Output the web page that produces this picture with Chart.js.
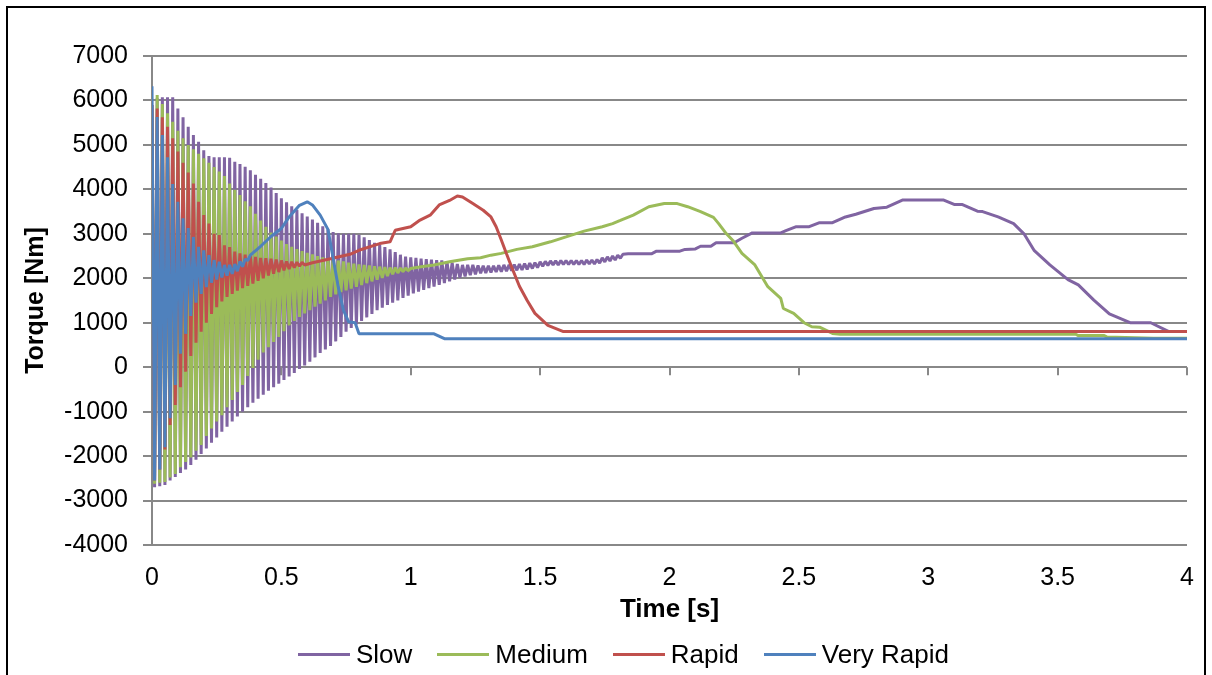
<!DOCTYPE html>
<html><head><meta charset="utf-8">
<script src="https://cdn.jsdelivr.net/npm/chart.js@4.4.1/dist/chart.umd.min.js"></script>
<style>
html,body{margin:0;padding:0;background:#fff;}
#wrap{position:relative;width:1212px;height:675px;overflow:hidden;background:#fff;}
#c{position:absolute;left:0;top:0;}
#frame{position:absolute;left:6px;top:6px;width:1200px;height:720px;border:2px solid #000;box-sizing:border-box;pointer-events:none;}
#legend{position:absolute;left:298px;top:638px;height:32px;display:flex;align-items:center;font-family:Arial,'Liberation Sans',sans-serif;font-size:26px;color:#000;white-space:nowrap;}
.item{display:flex;align-items:center;margin-right:25px;}
.swatch{width:52px;height:3px;margin-right:6px;}
</style></head>
<body><div id="wrap"><canvas id="c" width="1212" height="675"></canvas><div id="legend"></div><div id="frame"></div></div>
<script>
// ---- data ----
const seriesNames = ['Slow', 'Medium', 'Rapid', 'Very Rapid'];
const xTicks = [0, 0.5, 1, 1.5, 2, 2.5, 3, 3.5, 4];
const yTicks = [-4000, -3000, -2000, -1000, 0, 1000, 2000, 3000, 4000, 5000, 6000, 7000];

// time base of the oscillating start-up phase [s]
const tOsc = [
0,0.01,0.02,0.03,0.04,0.05,0.06,0.07,0.08,0.09,
0.1,0.11,0.12,0.13,0.14,0.15,0.16,0.17,0.18,0.19,
0.2,0.21,0.22,0.23,0.24,0.25,0.26,0.27,0.28,0.29,
0.3,0.31,0.32,0.33,0.34,0.35,0.36,0.37,0.38,0.39,
0.4,0.41,0.42,0.43,0.44,0.45,0.46,0.47,0.48,0.49,
0.5,0.51,0.52,0.53,0.54,0.55,0.56,0.57,0.58,0.59,
0.6,0.61,0.62,0.63,0.64,0.65,0.66,0.67,0.68,0.69,
0.7,0.71,0.72,0.73,0.74,0.75,0.76,0.77,0.78,0.79,
0.8,0.81,0.82,0.83,0.84,0.85,0.86,0.87,0.88,0.89,
0.9,0.91,0.92,0.93,0.94,0.95,0.96,0.97,0.98,0.99,
1,1.01,1.02,1.03,1.04,1.05,1.06,1.07,1.08,1.09,
1.1,1.11,1.12,1.13,1.14,1.15,1.16,1.17,1.18,1.19,
1.2,1.21,1.22,1.23,1.24,1.25,1.26,1.27,1.28,1.29,
1.3,1.31,1.32,1.33,1.34,1.35,1.36,1.37,1.38,1.39,
1.4,1.41,1.42,1.43,1.44,1.45,1.46,1.47,1.48,1.49,
1.5,1.51,1.52,1.53,1.54,1.55,1.56,1.57,1.58,1.59,
1.6,1.61,1.62,1.63,1.64,1.65,1.66,1.67,1.68,1.69,
1.7,1.71,1.72,1.73,1.74,1.75,1.76,1.77,1.78,1.79,
1.8,1.81,1.82];

// Slow [Nm]
const slowOsc = [
5900,-2700,6050,-2680,6070,-2650,6070,-2550,6070,-2470,
5820,-2380,5620,-2300,5410,-2200,5220,-2080,5070,-1950,
4880,-1830,4750,-1700,4720,-1580,4720,-1450,4720,-1340,
4710,-1220,4620,-1110,4570,-1000,4510,-900,4430,-800,
4330,-710,4240,-620,4140,-530,4040,-450,3920,-370,
3800,-290,3710,-210,3620,-130,3540,-40,3460,40,
3390,120,3320,220,3250,320,3170,400,3100,480,
3040,580,3010,680,3000,800,3000,880,3000,960,
2980,1040,2920,1120,2860,1200,2800,1280,2750,1340,
2700,1400,2650,1450,2590,1500,2530,1560,2490,1610,
2470,1660,2460,1700,2440,1740,2430,1780,2420,1810,
2410,1850,2400,1890,2380,1930,2350,1970,2320,2010,
2300,2040,2300,2070,2300,2090,2290,2110,2280,2120,
2280,2130,2280,2140,2290,2150,2300,2160,2300,2170,
2310,2180,2320,2190,2330,2200,2340,2220,2350,2240,
2370,2270,2380,2290,2390,2300,2390,2300,2400,2310,
2400,2310,2400,2310,2400,2310,2400,2310,2410,2320,
2410,2320,2420,2340,2460,2370,2480,2390,2500,2410,
2520,2450,2540];
const slowTailT = [1.84,1.93,1.95,2.04,2.06,2.1,2.12,2.16,2.18,2.25,2.28,2.32,2.43,2.45,2.49,2.54,2.58,2.63,2.68,2.72,2.79,2.84,2.9,3.06,3.1,3.13,3.19,3.21,3.27,3.33,3.37,3.41,3.47,3.54,3.58,3.64,3.7,3.78,3.86,3.93,4];
const slowTailV = [2550,2550,2610,2610,2650,2660,2720,2720,2800,2800,2900,3020,3020,3070,3160,3160,3250,3250,3380,3440,3570,3600,3760,3760,3660,3660,3510,3500,3380,3230,3000,2620,2300,1970,1850,1510,1200,1000,1000,800,800];

// Medium [Nm]
const mediumOsc = [
5800,-2620,6120,-2600,5920,-2580,5710,-2480,5520,-2400,
5320,-2250,5150,-2130,5000,-2030,4900,-1880,4800,-1750,
4700,-1550,4600,-1380,4500,-1220,4400,-1080,4300,-900,
4130,-740,3990,-560,3870,-400,3730,-200,3620,-20,
3450,170,3300,330,3160,450,3030,570,2940,680,
2850,810,2770,940,2710,1040,2660,1130,2610,1210,
2570,1280,2540,1360,2500,1430,2470,1500,2450,1580,
2430,1640,2400,1690,2380,1730,2350,1770,2330,1810,
2310,1850,2300,1890,2290,1930,2270,1970,2260,2010,
2250,2050,2240,2090,2240,2120,2230,2150,2230,2170,
2220];
const mediumTailT = [1.04,1.09,1.15,1.22,1.27,1.31,1.35,1.41,1.47,1.54,1.6,1.67,1.74,1.78,1.81,1.86,1.92,1.98,2.03,2.07,2.12,2.17,2.19,2.22,2.245,2.28,2.33,2.38,2.43,2.44,2.48,2.52,2.55,2.58,2.63,2.66,3.57,3.58,3.68,3.69,3.87,4];
const mediumTailV = [2260,2300,2370,2440,2460,2520,2560,2650,2710,2820,2930,3060,3160,3230,3300,3420,3610,3680,3680,3610,3500,3370,3230,3000,2850,2560,2300,1810,1550,1320,1210,1000,910,900,760,740,740,710,710,680,650,650];

// Rapid [Nm]
const rapidOsc = [
5900,-2550,5820,-2300,5620,-1850,5410,-1300,5150,-850,
4850,-450,4600,-100,4380,250,4130,550,3720,800,
3420,1000,3230,1200,3000,1350,2970,1480,2740,1580,
2700,1650,2600,1720,2560,1780,2530,1830,2500,1880,
2480,1940,2460,2000,2450,2060,2440,2100,2420,2140,
2400,2180,2380,2210,2370,2240,2360,2270,2360,2300];
const rapidTailT = [0.62,0.69,0.765,0.8,0.88,0.92,0.94,0.97,1,1.036,1.075,1.11,1.15,1.18,1.2,1.24,1.28,1.31,1.33,1.35,1.37,1.39,1.42,1.45,1.48,1.53,1.59,4];
const rapidTailV = [2350,2440,2540,2630,2780,2820,3080,3120,3160,3310,3420,3650,3750,3850,3830,3680,3530,3380,3160,2860,2550,2250,1820,1500,1210,940,800,800];

// Very Rapid [Nm]
const veryRapidOsc = [
6320,-2550,5630,-2300,5220,-1800,4720,-1150,4120,-400,
3720,300,3350,750,3130,1150,2930,1450,2710,1650,
2630,1800,2520,1900,2410,1970,2370,2020,2300,2060,
2300,2100,2320,2160,2380,2260,2430,2400];
const veryRapidTailT = [0.38,0.42,0.46,0.5,0.53,0.57,0.6,0.62,0.65,0.68,0.7,0.72,0.74,0.76,0.785,0.8,1.09,1.13,4];
const veryRapidTailV = [2520,2720,2940,3120,3380,3640,3720,3650,3420,3100,2450,1800,1280,1020,1000,750,750,640,640];

// ---- styling ----
const colors = ['#8064A2', '#9BBB59', '#C0504D', '#4F81BD'];
const FONT = "Arial, 'Liberation Sans', sans-serif";
const GRID = '#888888';

function pts(ts, vs) { return vs.map((v, i) => ({ x: ts[i], y: v })); }
const seriesData = [
  pts(tOsc, slowOsc).concat(pts(slowTailT, slowTailV)),
  pts(tOsc, mediumOsc).concat(pts(mediumTailT, mediumTailV)),
  pts(tOsc, rapidOsc).concat(pts(rapidTailT, rapidTailV)),
  pts(tOsc, veryRapidOsc).concat(pts(veryRapidTailT, veryRapidTailV))
];

const datasets = seriesNames.map((name, i) => ({
  label: name,
  data: seriesData[i],
  borderColor: colors[i],
  backgroundColor: colors[i],
  borderWidth: 3,
  borderJoinStyle: 'bevel',
  pointRadius: 0,
  tension: 0,
  fill: false,
  order: 4 - i
}));

// small tick marks hanging below the zero line (horizontal axis crossing at 0)
const zeroTicks = {
  id: 'zeroTicks',
  beforeDatasetsDraw(chart) {
    const xs = chart.scales.x, ys = chart.scales.y, ctx = chart.ctx;
    const y0 = ys.getPixelForValue(0);
    ctx.save();
    ctx.strokeStyle = GRID; ctx.lineWidth = 2;
    ctx.beginPath();
    xTicks.forEach(v => { const px = Math.round(xs.getPixelForValue(v)); ctx.moveTo(px, y0); ctx.lineTo(px, y0 + 8); });
    ctx.stroke();
    ctx.restore();
  }
};

new Chart(document.getElementById('c'), {
  type: 'line',
  data: { datasets },
  plugins: [zeroTicks],
  options: {
    responsive: false,
    animation: false,
    events: [],
    layout: { padding: { top: 56, right: 25, bottom: 50, left: 0 } },
    plugins: { legend: { display: false }, tooltip: { enabled: false } },
    scales: {
      x: {
        type: 'linear', min: 0, max: 4,
        afterBuildTicks: s => { s.ticks = xTicks.map(v => ({ value: v })); },
        afterFit: s => { s.height = 80; },
        ticks: { font: { family: FONT, size: 25 }, color: '#000', padding: 10, maxRotation: 0, autoSkip: false, callback: v => String(v) },
        grid: { display: false },
        border: { display: false },
        title: { display: true, text: 'Time [s]', color: '#000', font: { family: FONT, size: 26, weight: 'bold' }, padding: { top: 1.5, bottom: 0 } }
      },
      y: {
        type: 'linear', min: -4000, max: 7000,
        afterBuildTicks: s => { s.ticks = yTicks.map(v => ({ value: v })); },
        afterFit: s => { s.width = 152; },
        ticks: { font: { family: FONT, size: 25 }, color: '#000', padding: 15, callback: v => String(v) },
        grid: { color: GRID, lineWidth: 2, tickLength: 9 },
        border: { color: GRID, width: 2 },
        title: { display: true, text: 'Torque [Nm]', color: '#000', font: { family: FONT, size: 25, weight: 'bold' }, padding: { top: 21, bottom: 0 } }
      }
    }
  }
});

// legend (HTML, real text)
const lg = document.getElementById('legend');
seriesNames.forEach((name, i) => {
  const it = document.createElement('div'); it.className = 'item';
  const sw = document.createElement('div'); sw.className = 'swatch'; sw.style.background = colors[i];
  const tx = document.createElement('span'); tx.textContent = name;
  it.appendChild(sw); it.appendChild(tx); lg.appendChild(it);
});
</script>
</body></html>
